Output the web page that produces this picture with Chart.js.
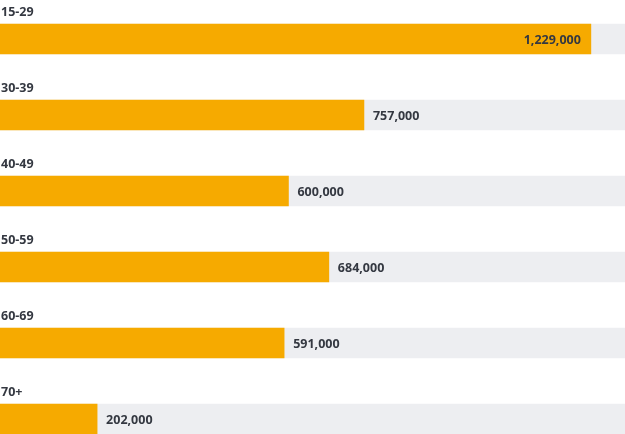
<!DOCTYPE html>
<html>
<head>
<meta charset="utf-8">
<script src="https://cdn.jsdelivr.net/npm/chart.js@4"></script>
<style>
  html, body { margin: 0; padding: 0; background: #fff; overflow: hidden; }
  #wrap { position: relative; width: 625px; height: 434px; }
</style>
</head>
<body>
<div id="wrap"><canvas id="chart"></canvas></div>
<script>
const ageGroups = ['15-29', '30-39', '40-49', '50-59', '60-69', '70+'];
const people = [1229000, 757000, 600000, 684000, 591000, 202000];
const axisMax = 1300000;
const trackValues = ageGroups.map(function () { return axisMax; });

const BAR_COLOR = '#F6AA00';
const TRACK_COLOR = '#EDEEF1';
const TEXT_COLOR = '#343841';
const FONT = 'bold 12.5px "Open Sans", sans-serif';

function fmt(v) {
  return v.toLocaleString('en-US');
}

// category label above each bar, value at the end of the bar
const barLabelsPlugin = {
  id: 'barLabels',
  afterDatasetsDraw: function (chart) {
    const ctx = chart.ctx;
    const meta = chart.getDatasetMeta(1);
    const area = chart.chartArea;
    ctx.save();
    ctx.font = FONT;
    ctx.fillStyle = TEXT_COLOR;
    meta.data.forEach(function (bar, i) {
      const top = bar.y - bar.height / 2;
      ctx.textAlign = 'left';
      ctx.textBaseline = 'middle';
      ctx.fillText(ageGroups[i], 1, top - 12);

      const text = fmt(people[i]);
      const w = ctx.measureText(text).width;
      if (bar.x + 9 + w > area.right - 4) {
        ctx.textAlign = 'right';
        ctx.fillText(text, bar.x - 10, bar.y + 1);
      } else {
        ctx.textAlign = 'left';
        ctx.fillText(text, bar.x + 9, bar.y + 1);
      }
    });
    ctx.restore();
  }
};

new Chart(document.getElementById('chart'), {
  type: 'bar',
  data: {
    labels: ageGroups,
    datasets: [
      {
        data: trackValues,
        backgroundColor: TRACK_COLOR,
        barThickness: 30,
        grouped: false,
        clip: false,
        order: 2
      },
      {
        data: people,
        backgroundColor: BAR_COLOR,
        barThickness: 30,
        grouped: false,
        clip: false,
        order: 1
      }
    ]
  },
  options: {
    indexAxis: 'y',
    responsive: true,
    maintainAspectRatio: false,
    animation: false,
    layout: { padding: { top: 39, bottom: 15, left: 0, right: 0 } },
    scales: {
      x: { display: false, min: 0, max: axisMax },
      y: { display: false, offset: false }
    },
    plugins: {
      legend: { display: false },
      tooltip: { enabled: false }
    }
  },
  plugins: [barLabelsPlugin]
});
</script>
</body>
</html>
